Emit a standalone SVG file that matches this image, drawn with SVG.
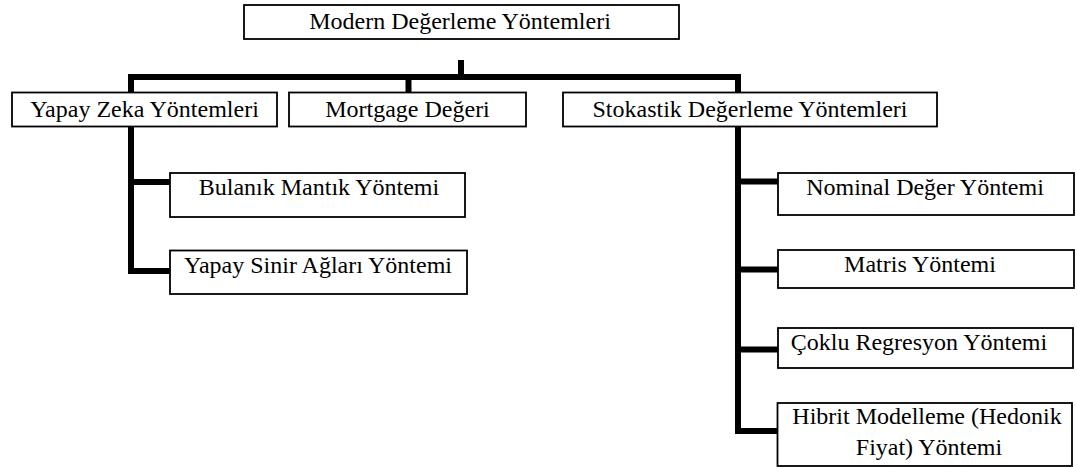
<svg xmlns="http://www.w3.org/2000/svg" width="1077" height="467" viewBox="0 0 1077 467">
  <style>
    .box { fill: #ffffff; stroke: #000000; stroke-width: 1.8; }
    .lbl { font-family: "Liberation Serif", "Times New Roman", serif; font-size: 24px; fill: #000000; text-anchor: middle; }
    .wire { fill: none; stroke: #000000; stroke-width: 6; stroke-linejoin: miter; stroke-linecap: butt; }
  </style>
  <rect width="1077" height="467" fill="#ffffff"/>

  <g id="connectors">
    <path class="wire" d="M461,60 V77"/>
    <path class="wire" d="M128,77 H741"/>
    <path class="wire" d="M408.5,77 V93"/>
    <path class="wire" d="M131,74 V271 H170"/>
    <path class="wire" d="M131,182 H170"/>
    <path class="wire" d="M738,74 V431 H778"/>
    <path class="wire" d="M738,181.5 H778"/>
    <path class="wire" d="M738,269.5 H778"/>
    <path class="wire" d="M738,349.5 H778"/>
  </g>

  <g id="modern">
    <rect class="box" x="244" y="5" width="435" height="34"/>
    <text class="lbl" x="460" y="29">Modern Değerleme Yöntemleri</text>
  </g>
  <g id="yapay-zeka">
    <rect class="box" x="12" y="92.5" width="265" height="34"/>
    <text class="lbl" x="144.5" y="116.5">Yapay Zeka Yöntemleri</text>
  </g>
  <g id="mortgage">
    <rect class="box" x="289" y="92.5" width="237" height="34"/>
    <text class="lbl" x="407.5" y="116.5">Mortgage Değeri</text>
  </g>
  <g id="stokastik">
    <rect class="box" x="563" y="92.5" width="374" height="34"/>
    <text class="lbl" x="750" y="116.5">Stokastik Değerleme Yöntemleri</text>
  </g>
  <g id="bulanik">
    <rect class="box" x="170" y="173" width="295" height="44"/>
    <text class="lbl" x="319" y="195">Bulanık Mantık Yöntemi</text>
  </g>
  <g id="yapay-sinir">
    <rect class="box" x="170" y="250.5" width="297" height="43.5"/>
    <text class="lbl" x="318" y="273">Yapay Sinir Ağları Yöntemi</text>
  </g>
  <g id="nominal">
    <rect class="box" x="778" y="173" width="296" height="42"/>
    <text class="lbl" x="925" y="195">Nominal Değer Yöntemi</text>
  </g>
  <g id="matris">
    <rect class="box" x="778" y="250" width="296" height="38"/>
    <text class="lbl" x="920" y="272">Matris Yöntemi</text>
  </g>
  <g id="coklu">
    <rect class="box" x="778" y="328" width="295" height="40"/>
    <text class="lbl" x="919" y="350">Çoklu Regresyon Yöntemi</text>
  </g>
  <g id="hibrit">
    <rect class="box" x="777.5" y="403" width="294.5" height="63"/>
    <text class="lbl" x="927" y="423.5">Hibrit Modelleme (Hedonik</text>
    <text class="lbl" x="929" y="455">Fiyat) Yöntemi</text>
  </g>
</svg>
